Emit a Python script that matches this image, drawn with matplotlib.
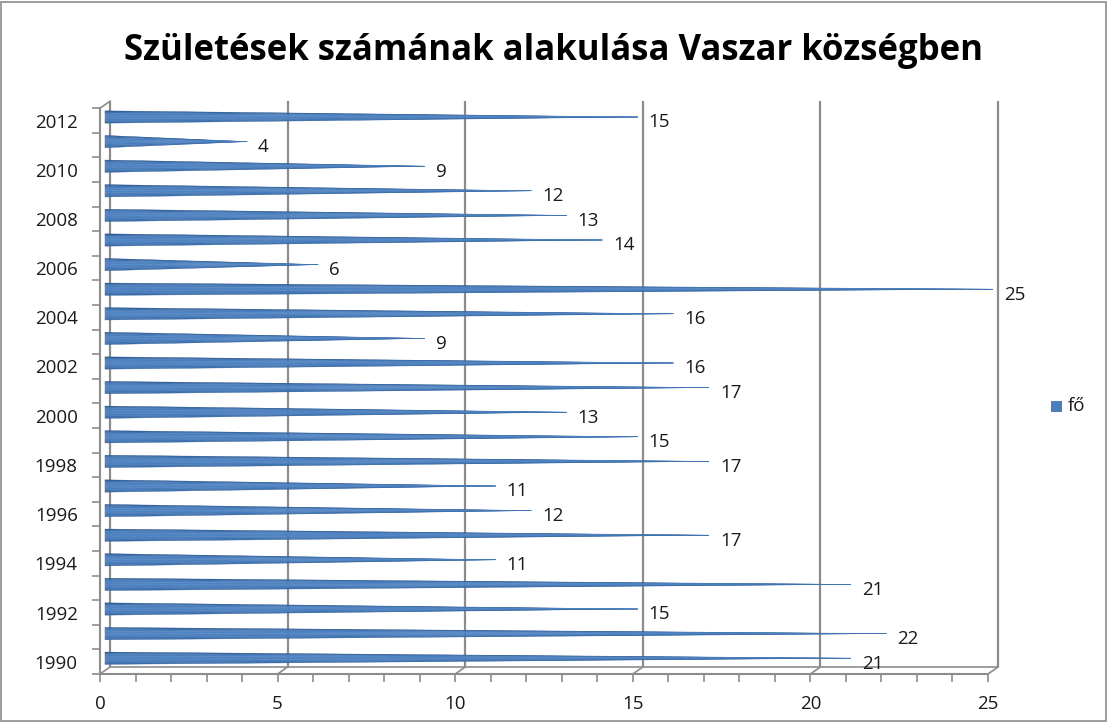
import numpy as np
import matplotlib
matplotlib.use("Agg")
import matplotlib.pyplot as plt
from matplotlib.patches import Polygon, Rectangle

plt.rcParams['font.family'] = ['Open Sans', 'DejaVu Sans']

# data
years = list(range(1990, 2013))
values = [21, 22, 15, 21, 11, 17, 12, 11, 17, 15, 13, 17, 16, 9, 16, 25, 6, 14, 13, 12, 9, 4, 15]
title = "Születések számának alakulása Vaszar községben"
series_name = "fő"

W, H = 1108, 722
fig = plt.figure(figsize=(W / 100, H / 100), dpi=100)

# pixel scale: 35.52 px per unit in x, 24.6 px per category in y
px_x = 35.52
px_y = 24.6
ax_left, ax_right, ax_bottom, ax_top = 100, 1100, 674, 95
ax = fig.add_axes([ax_left / W, (H - ax_bottom) / H,
                   (ax_right - ax_left) / W, (ax_bottom - ax_top) / H])
ax.set_xlim(0, (ax_right - ax_left) / px_x)
ax.set_ylim(-0.5, -0.5 + (ax_bottom - ax_top) / px_y)

dx = 10 / px_x   # depth offset
dy = 7 / px_y
grid_c = '#8c8c8c'
n = len(years)
top = n - 0.5

# back walls / gridlines
for v in range(0, 26, 5):
    ax.plot([v + dx, v + dx], [-0.5 + dy, top + dy], color=grid_c, lw=1.6, zorder=1,
            solid_capstyle='butt')
    ax.plot([v, v + dx], [-0.5, -0.5 + dy], color=grid_c, lw=1.2, zorder=1)
ax.plot([dx, 25 + dx], [-0.5 + dy, -0.5 + dy], color=grid_c, lw=1.2, zorder=1)
ax.plot([0, dx], [top, top + dy], color=grid_c, lw=1.2, zorder=1)

# cones: dark top edge, even body, slightly darker underside
stripe_cols = ['#2d5a92', '#3e6fab', '#4a7ebd', '#4f83c2', '#4f83c2', '#4a7ebd', '#4276b4', '#3b6ca8']
stripe_w = np.array([0.7, 0.8, 1.2, 1.3, 1.3, 1.2, 1.0, 0.8])
h = 0.25
cum = np.concatenate([[0], np.cumsum(stripe_w) / stripe_w.sum()])
for i, v in enumerate(values):
    yc = i + dy / 2
    x0 = dx / 2
    xa = v + dx / 2
    edges = yc + h - 2 * h * cum
    for k, c in enumerate(stripe_cols):
        ax.add_patch(Polygon([[x0, edges[k]], [x0, edges[k + 1]], [xa, yc]],
                             closed=True, facecolor=c, edgecolor=c, lw=0.3, zorder=3))
    ax.text(v + 0.45, i - 0.08, str(v), fontsize=13.5, color='#1a1a1a',
            va='center', ha='left', zorder=4)

# axes spines and ticks
for s in ['top', 'right']:
    ax.spines[s].set_visible(False)
for s in ['left', 'bottom']:
    ax.spines[s].set_color(grid_c)
    ax.spines[s].set_linewidth(1.5)
ax.spines['bottom'].set_bounds(0, 25)
ax.spines['left'].set_bounds(-0.5, top)

ax.set_xticks(range(0, 26, 5))
ax.set_xticks(range(0, 26), minor=True)
ax.set_xticklabels([str(v) for v in range(0, 26, 5)], fontsize=13.5, color='#1a1a1a')
ax.set_yticks(np.arange(-0.5, n, 1.0), minor=True)
ax.set_yticks([i for i, y in enumerate(years) if y % 2 == 0])
ax.set_yticklabels([str(y) for y in years if y % 2 == 0], fontsize=13.5, color='#1a1a1a')
ax.tick_params(axis='x', which='both', direction='out', length=6, width=1.2, color=grid_c, pad=9)
ax.tick_params(axis='y', which='major', length=0, pad=16)
ax.tick_params(axis='y', which='minor', direction='out', length=6, width=1.2, color=grid_c)

# legend
fig.patches.append(Rectangle((1051 / W, (H - 412) / H), 11 / W, 11 / H,
                             transform=fig.transFigure, facecolor='#4a7ebd', edgecolor='none'))
fig.text(1068 / W, (H - 406) / H, series_name, fontsize=13.5, va='center', ha='left', color='#1a1a1a')

fig.text(0.5, (H - 51) / H, title, fontsize=25, fontweight='bold', ha='center', va='center',
         color='#000000')

# chart border
fig.patches.append(Rectangle((1 / W, 1 / H), (W - 3) / W, (H - 3) / H, transform=fig.transFigure,
                             facecolor='none', edgecolor='#8c8c8c', lw=1.2))

fig.savefig('out.png', dpi=100)
